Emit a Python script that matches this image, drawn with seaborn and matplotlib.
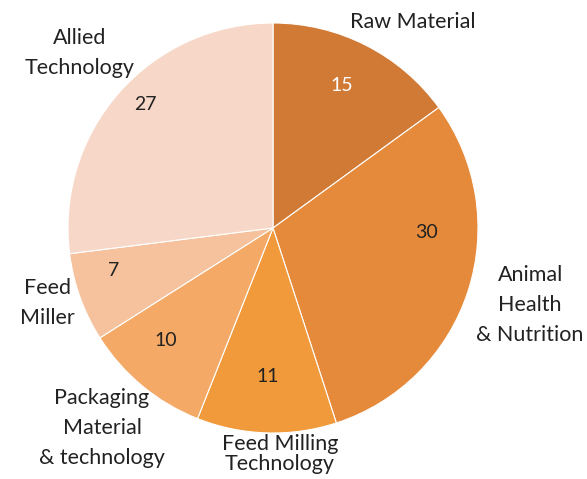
import matplotlib
matplotlib.use("Agg")
import matplotlib.pyplot as plt
import seaborn as sns

sns.set_theme(style="white")
plt.rcParams['font.family'] = ['Lato', 'DejaVu Sans']

categories = ["Raw Material", "Animal\nHealth\n& Nutrition", "Feed Milling\nTechnology",
              "Packaging\nMaterial\n& technology", "Feed\nMiller", "Allied\nTechnology"]
values = [15, 30, 11, 10, 7, 27]
colors = ["#D07A36", "#E58A3B", "#F19A3B", "#F4A966", "#F5C29D", "#F7D8C8"]
value_colors = ["white", "#222222", "#222222", "#222222", "#222222", "#222222"]

# label placement (pie radius units)
value_pos = [(0.337, 0.693), (0.751, -0.024), (-0.024, -0.722),
             (-0.522, -0.551), (-0.776, -0.205), (-0.624, 0.60)]
cat_pos = [(0.683, 1.005), (1.254, -0.376), (0.034, -1.10),
           (-0.834, -0.976), (-1.102, -0.366), (-0.941, 0.854)]
cat_spacing = [1.65, 1.65, 1.0, 1.65, 1.65, 1.65]

fig = plt.figure(figsize=(5.87, 4.79), dpi=100)
cx, cy, r = 273, 251, 205
ax = fig.add_axes([(cx - r) / 587, (cy - r) / 479, 2 * r / 587, 2 * r / 479])
ax.pie(values, colors=colors, startangle=90, counterclock=False,
       wedgeprops=dict(edgecolor="white", linewidth=0.8), radius=1)
ax.set_xlim(-1, 1)
ax.set_ylim(-1, 1)
ax.set_aspect("equal")

for v, (x, y), c in zip(values, value_pos, value_colors):
    ax.text(x, y, str(v), ha="center", va="center", fontsize=14, color=c)
for lab, (x, y), ls in zip(categories, cat_pos, cat_spacing):
    ax.text(x, y, lab, ha="center", va="center", fontsize=15.5, color="#222222",
            linespacing=ls, clip_on=False)

fig.savefig("out.png", dpi=100)
